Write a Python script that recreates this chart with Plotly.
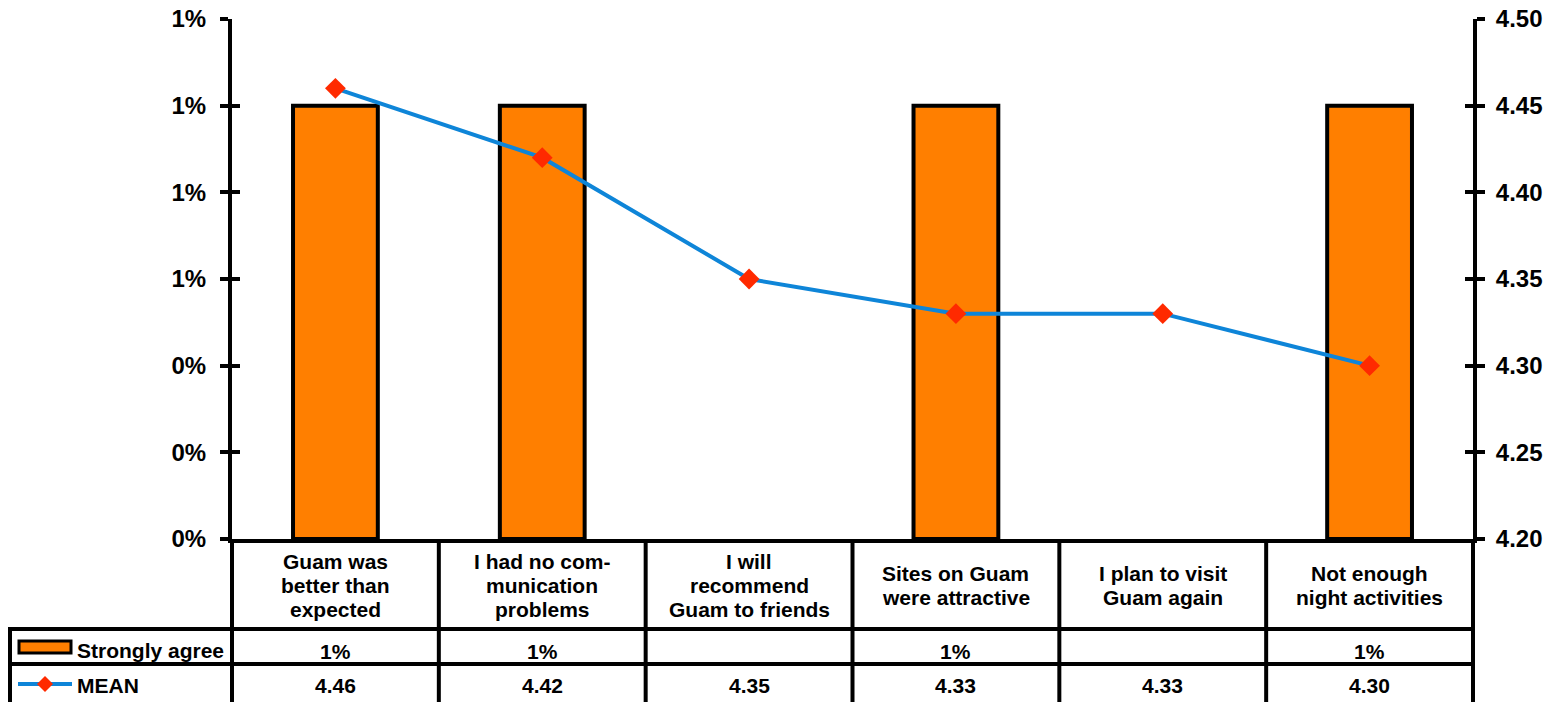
import plotly.graph_objects as go

categories = ["Guam was<br>better than<br>expected",
              "I had no com-<br>munication<br>problems",
              "I will<br>recommend<br>Guam to friends",
              "Sites on Guam<br>were attractive",
              "I plan to visit<br>Guam again",
              "Not enough<br>night activities"]
strongly_agree = [0.01, 0.01, None, 0.01, None, 0.01]
mean_vals = [4.46, 4.42, 4.35, 4.33, 4.33, 4.30]
row_labels = ["Strongly agree", "MEAN"]

W, H = 1560, 702
L, R, T, B = 232, 1473, 19, 539
PW, PH = R - L, B - T

def xp(px):
    return (px - L) / PW

def yp(py):
    return (B - py) / PH

FONT = "Liberation Sans, Arial, sans-serif"
ORANGE = "#FF7F00"
BLUE = "#0E85D8"
RED = "#FF2A00"

xs = list(range(len(categories)))

fig = go.Figure()
fig.add_trace(go.Bar(x=xs, y=strongly_agree, name=row_labels[0], marker=dict(color=ORANGE, line=dict(color="black", width=4)),
                     width=0.41, yaxis="y"))
fig.add_trace(go.Scatter(x=xs, y=mean_vals, name=row_labels[1], mode="lines+markers", yaxis="y2",
                         line=dict(color=BLUE, width=4),
                         marker=dict(symbol="diamond", color=RED, size=16)))
fig.add_trace(go.Scatter(x=[0], y=[None], yaxis="y3", showlegend=False, hoverinfo="skip"))
fig.add_trace(go.Scatter(x=[0], y=[None], yaxis="y4", showlegend=False, hoverinfo="skip"))

tickfont = dict(family=FONT, size=24, color="black", weight="bold")
fig.update_layout(
    width=W, height=H,
    margin=dict(l=L, r=W - R, t=T, b=H - B),
    paper_bgcolor="white", plot_bgcolor="white",
    showlegend=False,
    xaxis=dict(range=[-0.5, 5.5], showticklabels=False, ticks="", showgrid=False, zeroline=False,
               showline=True, linecolor="black", linewidth=4, automargin=False),
    yaxis=dict(range=[0, 0.012], dtick=0.002, tick0=0, tickformat=".0%", showgrid=False, zeroline=False,
               showline=True, linecolor="black", linewidth=4, ticks="outside", ticklen=8, tickwidth=4,
               tickcolor="black", tickfont=tickfont, ticklabelstandoff=9, automargin=False),
    yaxis2=dict(range=[4.2, 4.5], dtick=0.05, tick0=4.2, tickformat=".2f", overlaying="y", side="right",
                showgrid=False, zeroline=False, showline=True, linecolor="black", linewidth=4,
                ticks="outside", ticklen=8, tickwidth=4, tickcolor="black", tickfont=tickfont,
                ticklabelstandoff=6, automargin=False),
    yaxis3=dict(range=[0, 0.012], dtick=0.002, tick0=0, overlaying="y", side="left", showgrid=False,
                zeroline=False, showline=False, ticks="inside", ticklen=8, tickwidth=4, tickcolor="black",
                showticklabels=False, automargin=False),
    yaxis4=dict(range=[4.2, 4.5], dtick=0.05, tick0=4.2, overlaying="y", side="right", showgrid=False,
                zeroline=False, showline=False, ticks="inside", ticklen=8, tickwidth=4, tickcolor="black",
                showticklabels=False, automargin=False),
)

lw = 4
shapes = []
def line(x0, y0, x1, y1):
    shapes.append(dict(type="line", xref="paper", yref="paper", x0=xp(x0), y0=yp(y0), x1=xp(x1), y1=yp(y1),
                       line=dict(color="black", width=lw), layer="above"))

row1_top, row2_top, row2_bot = 629, 664, 706
left_edge = 10
line(left_edge, row1_top, R, row1_top)
line(left_edge, row2_top, R, row2_top)
line(left_edge, row2_bot, R, row2_bot)
line(left_edge, row1_top - 2, left_edge, row2_bot)
for i in range(len(categories) + 1):
    px = L + PW * i / len(categories)
    line(px, B, px, row2_bot)

shapes.append(dict(type="rect", xref="paper", yref="paper", x0=xp(19), x1=xp(71), y0=yp(653), y1=yp(641),
                   fillcolor=ORANGE, line=dict(color="black", width=3)))
shapes.append(dict(type="line", xref="paper", yref="paper", x0=xp(18), x1=xp(72), y0=yp(684), y1=yp(684),
                   line=dict(color=BLUE, width=4)))
shapes.append(dict(type="path", xref="paper", yref="paper", xsizemode="pixel", ysizemode="pixel",
                   xanchor=xp(45), yanchor=yp(684), path="M -8 0 L 0 8 L 8 0 L 0 -8 Z",
                   fillcolor=RED, line=dict(color=RED, width=0)))
fig.update_layout(shapes=shapes)

cellfont = dict(family=FONT, size=21, color="black", weight="bold")
annotations = []
n = len(categories)
LINE_H = 24
for i, c in enumerate(categories):
    cx = (i + 0.5) / n
    parts = c.split("<br>")
    k = len(parts)
    for j, part in enumerate(parts):
        cy = 585 + (j - (k - 1) / 2) * LINE_H
        annotations.append(dict(xref="paper", yref="paper", x=cx, y=yp(cy), text=part, showarrow=False,
                                font=cellfont, xanchor="center", yanchor="middle", align="center"))
    sa = strongly_agree[i]
    if sa is not None:
        annotations.append(dict(xref="paper", yref="paper", x=cx, y=yp(651), text=f"{sa:.0%}", showarrow=False,
                                font=cellfont, xanchor="center", yanchor="middle"))
    annotations.append(dict(xref="paper", yref="paper", x=cx, y=yp(686), text=f"{mean_vals[i]:.2f}", showarrow=False,
                            font=cellfont, xanchor="center", yanchor="middle"))
annotations.append(dict(xref="paper", yref="paper", x=xp(75), y=yp(650), text=row_labels[0], showarrow=False,
                        font=dict(family=FONT, size=21, color="black", weight="bold"), xanchor="left", yanchor="middle"))
annotations.append(dict(xref="paper", yref="paper", x=xp(75), y=yp(685), text=row_labels[1], showarrow=False,
                        font=dict(family=FONT, size=21, color="black", weight="bold"), xanchor="left", yanchor="middle"))
fig.update_layout(annotations=annotations)

fig.write_html("out.html")
